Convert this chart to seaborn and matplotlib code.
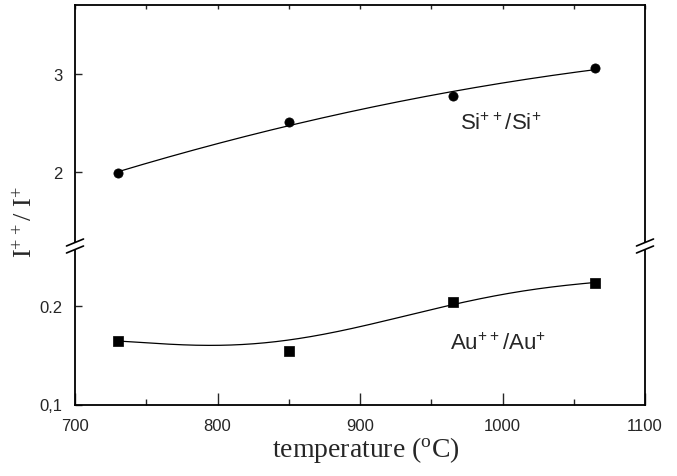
import numpy as np
import pandas as pd
import matplotlib
matplotlib.use("Agg")
import matplotlib.pyplot as plt
from matplotlib.ticker import MultipleLocator, FixedLocator
import seaborn as sns

# ---- data ----
temperature = [730, 850, 965, 1065]
si_ratio = [1.99, 2.51, 2.78, 3.06]
au_ratio = [0.164, 0.154, 0.204, 0.223]
# points
au_curve_t = [733, 753, 788, 811, 830, 848, 881, 900, 933, 963, 1003, 1061]
au_curve_v = [0.1642, 0.1624, 0.1601, 0.1601, 0.1624, 0.1655, 0.1733, 0.1784,
              0.1902, 0.2013, 0.2122, 0.2234]

x_ticks = [700, 800, 900, 1000, 1100]
top_ticks = [2, 3]
bottom_ticks = [0.1, 0.2]
bottom_ticklabels = ["0,1", "0.2"]

sns.set_style("ticks")
plt.rcParams["font.family"] = ["Liberation Sans", "DejaVu Sans"]
plt.rcParams["mathtext.fontset"] = "custom"
plt.rcParams["mathtext.rm"] = "Liberation Sans"

W, H = 677, 477
fig = plt.figure(figsize=(W / 100, H / 100), dpi=100)

def fx(px):
    return px / W

def fy(py):
    return 1 - py / H

left, right = 75, 645
top_px, gap_top, gap_bot, bot_px = 6, 243, 251, 405.5

ax_top = fig.add_axes([fx(left), fy(gap_top), fx(right - left), (gap_top - top_px) / H])
ax_bot = fig.add_axes([fx(left), fy(bot_px), fx(right - left), (bot_px - gap_bot) / H])

# fitted curves
tt = np.linspace(730, 1065, 300)
si_fit = np.polynomial.Polynomial.fit(temperature, si_ratio, 2)(tt)
au_fit = np.polynomial.Polynomial.fit(au_curve_t, au_curve_v, 5)(tt)

sns.lineplot(x=tt, y=si_fit, ax=ax_top, color="black", lw=0.9)
sns.scatterplot(x=temperature, y=si_ratio, ax=ax_top, color="black", marker="o",
                s=44, edgecolor="black", linewidth=0.5, zorder=3)
sns.lineplot(x=tt, y=au_fit, ax=ax_bot, color="black", lw=0.9)
sns.scatterplot(x=temperature, y=au_ratio, ax=ax_bot, color="black", marker="s",
                s=44, edgecolor="black", linewidth=0.5, zorder=3)

for ax in (ax_top, ax_bot):
    ax.set_xlim(700, 1100)
    for s in ax.spines.values():
        s.set_linewidth(1.3)
        s.set_color("black")

# top axes
ax_top.set_ylim(2 - (gap_top - 173) / 98, 3 + (75 - top_px) / 98)
ax_top.spines["bottom"].set_visible(False)
ax_top.yaxis.set_major_locator(FixedLocator(top_ticks))
ax_top.set_yticklabels([str(t) for t in top_ticks])
ax_top.xaxis.set_major_locator(MultipleLocator(100))
ax_top.xaxis.set_minor_locator(MultipleLocator(50))
ax_top.tick_params(axis="x", which="both", direction="in", top=True, bottom=False,
                   labelbottom=False, length=3, width=1)
ax_top.tick_params(axis="y", direction="in", length=5, width=1, labelsize=12,
                   right=False, pad=9)

# bottom axes
ax_bot.set_ylim(0.1, 0.1 + (bot_px - gap_bot) / 985)
ax_bot.spines["top"].set_visible(False)
ax_bot.yaxis.set_major_locator(FixedLocator(bottom_ticks))
ax_bot.set_yticklabels(bottom_ticklabels)
ax_bot.xaxis.set_major_locator(FixedLocator(x_ticks))
ax_bot.set_xticklabels([str(t) for t in x_ticks])
ax_bot.xaxis.set_minor_locator(MultipleLocator(50))
ax_bot.tick_params(axis="x", which="major", direction="in", length=9, width=1,
                   labelsize=12, pad=10)
ax_bot.tick_params(axis="x", which="minor", direction="in", length=4.5, width=1)
ax_bot.tick_params(axis="y", direction="in", length=5, width=1, labelsize=12, pad=9)

# break marks
for xp in (left, right):
    for yp in (243.5, 250.5):
        fig.add_artist(plt.Line2D([fx(xp - 8.5), fx(xp + 8.5)], [fy(yp + 3.5), fy(yp - 3.5)],
                                  color="black", lw=1.2, transform=fig.transFigure))

# labels
fig.text(fx(366), fy(450), "temperature ($\\mathregular{^{o}}$C)",
         family="Liberation Serif", fontsize=20, ha="center", va="center")
fig.text(fx(25), fy(222), "I$\\mathregular{^{++}}$/ I$\\mathregular{^{+}}$",
         family="Liberation Serif", fontsize=19, ha="center", va="center", rotation=90)

ax_top.text(970, 2.44, "Si$\\mathregular{^{++}}$/Si$\\mathregular{^{+}}$",
            fontsize=16, ha="left", va="baseline")
ax_bot.text(963, 0.1563, "Au$\\mathregular{^{++}}$/Au$\\mathregular{^{+}}$",
            fontsize=16, ha="left", va="baseline")

fig.savefig("out.png", dpi=100)
